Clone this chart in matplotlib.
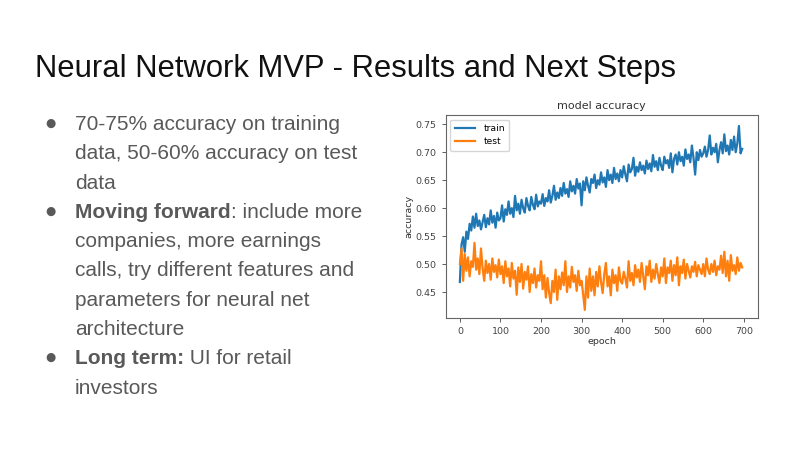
import numpy as np
import matplotlib.pyplot as plt

plt.rcParams['font.family'] = ['Liberation Sans', 'DejaVu Sans']

epochs = np.arange(0, 700, 4)

train_acc = [
    0.468, 0.535, 0.548, 0.522, 0.558, 0.545, 0.572, 0.560, 0.585, 0.565,
    0.590, 0.568, 0.578, 0.562, 0.575, 0.588, 0.566, 0.582, 0.571, 0.596,
    0.574, 0.586, 0.565, 0.592, 0.578,
    0.582, 0.605, 0.576, 0.598, 0.588, 0.612, 0.590, 0.600, 0.584, 0.622,
    0.596, 0.608, 0.590, 0.615, 0.600, 0.592, 0.618, 0.604, 0.596, 0.620,
    0.606, 0.598, 0.624, 0.603, 0.612,
    0.608, 0.625, 0.604, 0.618, 0.612, 0.632, 0.610, 0.622, 0.640, 0.615,
    0.628, 0.618, 0.636, 0.622, 0.645, 0.626, 0.634, 0.620, 0.648, 0.630,
    0.640, 0.626, 0.652, 0.635, 0.644,
    0.605, 0.648, 0.632, 0.655, 0.640, 0.628, 0.652, 0.645, 0.660, 0.636,
    0.650, 0.642, 0.664, 0.646, 0.655, 0.638, 0.668, 0.650, 0.660, 0.645,
    0.672, 0.652, 0.662, 0.648, 0.668,
    0.655, 0.675, 0.660, 0.648, 0.678, 0.664, 0.670, 0.690, 0.658, 0.674,
    0.665, 0.682, 0.668, 0.676, 0.662, 0.685, 0.670, 0.680, 0.666, 0.695,
    0.674, 0.684, 0.668, 0.690, 0.676,
    0.668, 0.692, 0.680, 0.686, 0.672, 0.698, 0.664, 0.688, 0.696, 0.678,
    0.700, 0.684, 0.692, 0.676, 0.705, 0.688, 0.696, 0.682, 0.712, 0.690,
    0.660, 0.700, 0.686, 0.704, 0.692,
    0.698, 0.710, 0.692, 0.704, 0.730, 0.696, 0.708, 0.700, 0.715, 0.682,
    0.704, 0.718, 0.698, 0.732, 0.702, 0.712, 0.696, 0.722, 0.704, 0.728,
    0.700, 0.716, 0.747, 0.698, 0.706,
]

test_acc = [
    0.500, 0.528, 0.470, 0.518, 0.488, 0.512, 0.478, 0.505, 0.495, 0.538,
    0.490, 0.510, 0.482, 0.528, 0.492, 0.470, 0.506, 0.484, 0.500, 0.472,
    0.510, 0.486, 0.498, 0.476, 0.508,
    0.482, 0.496, 0.466, 0.505, 0.478, 0.492, 0.460, 0.502, 0.474, 0.488,
    0.445, 0.494, 0.468, 0.500, 0.456, 0.486, 0.472, 0.496, 0.450, 0.482,
    0.466, 0.492, 0.458, 0.480, 0.470,
    0.505, 0.455, 0.480, 0.440, 0.475, 0.448, 0.430, 0.470, 0.450, 0.490,
    0.436, 0.478, 0.455, 0.485, 0.462, 0.505, 0.450, 0.478, 0.458, 0.495,
    0.468, 0.480, 0.452, 0.488, 0.462,
    0.470, 0.445, 0.418, 0.478, 0.440, 0.492, 0.452, 0.478, 0.444, 0.486,
    0.460, 0.496, 0.468, 0.448, 0.482, 0.502, 0.460, 0.478, 0.444, 0.490,
    0.466, 0.480, 0.452, 0.494, 0.470,
    0.465, 0.486, 0.474, 0.458, 0.505, 0.470, 0.484, 0.462, 0.498, 0.476,
    0.490, 0.468, 0.502, 0.478, 0.455, 0.496, 0.480, 0.506, 0.468, 0.490,
    0.474, 0.500, 0.482, 0.466, 0.494,
    0.478, 0.510, 0.466, 0.494, 0.484, 0.506, 0.470, 0.498, 0.480, 0.512,
    0.462, 0.496, 0.484, 0.508, 0.474, 0.500, 0.488, 0.476, 0.496, 0.486,
    0.504, 0.478, 0.498, 0.490, 0.482,
    0.500, 0.478, 0.510, 0.490, 0.482, 0.500, 0.486, 0.506, 0.480, 0.496,
    0.490, 0.515, 0.484, 0.522, 0.478, 0.506, 0.470, 0.516, 0.488, 0.498,
    0.482, 0.512, 0.488, 0.502, 0.494,
]

slide_title = 'Neural Network MVP - Results and Next Steps'
# (bold part, normal part, first line of a bullet?)
bullet_lines = [
    ('', '70-75% accuracy on training', True),
    ('', 'data, 50-60% accuracy on test', False),
    ('', 'data', False),
    ('Moving forward', ': include more', True),
    ('', 'companies, more earnings', False),
    ('', 'calls, try different features and', False),
    ('', 'parameters for neural net', False),
    ('', 'architecture', False),
    ('Long term:', ' UI for retail', True),
    ('', 'investors', False),
]

W, H = 806, 453
fig = plt.figure(figsize=(W / 100, H / 100), dpi=100)
fig.patch.set_facecolor('white')

# slide title
fig.text(35 / W, 1 - 77 / H, slide_title, fontsize=22.3, color='#111111',
         ha='left', va='baseline')

# bullet list
renderer = fig.canvas.get_renderer()
txt_color = '#595959'
y0 = 130
for i, (bold, normal, first) in enumerate(bullet_lines):
    yb = 1 - (y0 + i * 29.3) / H
    if first:
        fig.text(50 / W, yb + 7 / H, '\u25cf', fontsize=8.5, color=txt_color,
                 ha='center', va='center', family=['DejaVu Sans'])
    x = 75 / W
    if bold:
        t = fig.text(x, yb, bold, fontsize=15, color=txt_color,
                     fontweight='bold', ha='left', va='baseline')
        x = t.get_window_extent(renderer).x1 / W
    fig.text(x, yb, normal, fontsize=15, color=txt_color,
             ha='left', va='baseline')

# chart
plt.rcParams['font.family'] = ['DejaVu Sans']
ax = fig.add_axes([445.7 / W, 1 - 318 / H, (758 - 445.7) / W, (318 - 115) / H])
ax.plot(epochs, train_acc, color='#1f77b4', lw=1.6, label='train')
ax.plot(epochs, test_acc, color='#ff7f0e', lw=1.6, label='test')
ax.set_title('model accuracy', fontsize=8, color='#333333', pad=4,
             family='DejaVu Sans')
ax.set_xlabel('epoch', fontsize=6.8, color='#333333', labelpad=1,
              family='DejaVu Sans')
ax.set_ylabel('accuracy', fontsize=6.8, color='#333333', labelpad=2,
              family='DejaVu Sans')
ax.set_xticks([0, 100, 200, 300, 400, 500, 600, 700])
ax.set_yticks([0.45, 0.50, 0.55, 0.60, 0.65, 0.70, 0.75])
ax.set_yticklabels(['0.45', '0.50', '0.55', '0.60', '0.65', '0.70', '0.75'])
ax.set_xlim(-35, 735)
ax.set_ylim(0.4035, 0.7666)
ax.tick_params(labelsize=6.8, colors='#444444', length=3, width=0.6)
for lab in ax.get_xticklabels() + ax.get_yticklabels():
    lab.set_family('DejaVu Sans')
for s in ax.spines.values():
    s.set_color('#666666')
    s.set_linewidth(0.8)
ax.legend(loc='upper left', prop={'family': 'DejaVu Sans', 'size': 6.6},
          frameon=True, handlelength=2.2, handletextpad=0.9,
          borderpad=0.5, labelspacing=0.45)

fig.savefig('out.png', dpi=100, facecolor='white')
